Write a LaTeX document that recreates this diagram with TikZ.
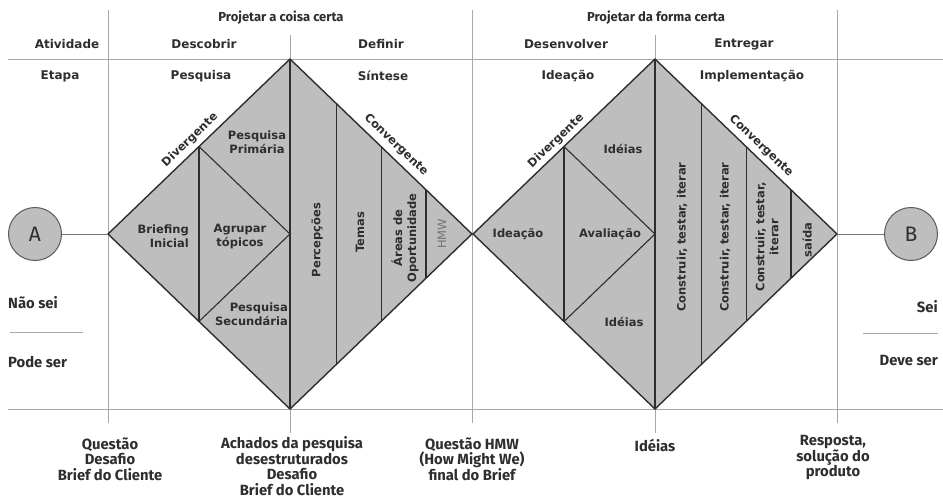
\documentclass[tikz,border=0pt]{standalone}
\usepackage{fontspec}
\setmainfont{DejaVu Sans}
\newfontfamily\firafont{Fira Sans}
\usetikzlibrary{calc}

\definecolor{panelfill}{HTML}{BEBEBE}
\definecolor{inkc}{HTML}{2E2E2E}
\definecolor{gridc}{HTML}{A8A8A8}

\begin{document}
\begin{tikzpicture}[x=1pt,y=-1pt,
  gridline/.style={draw=gridc, line width=0.9pt},
  outline/.style={draw=inkc, line width=1.4pt, line join=miter},
  divider/.style={draw=inkc, line width=1.1pt},
  lbl/.style={font=\fontsize{11.5}{14}\selectfont\bfseries, text=inkc, inner sep=0pt, align=center},
  rowlbl/.style={lbl, font=\fontsize{12}{14}\selectfont\bfseries},
  head/.style={font=\firafont\fontsize{13}{15.5}\selectfont\bfseries, text=inkc, inner sep=0pt, align=center},
  note/.style={head, font=\firafont\fontsize{14.8}{15.5}\selectfont\bfseries},
  endpoint/.style={circle, draw=black!65, line width=1pt, fill=panelfill, minimum size=53pt, inner sep=0pt,
    font=\firafont\fontsize{21}{21}\selectfont, text=inkc},
  link/.style={draw=black!55, line width=1pt}
]
\useasboundingbox (0,0) rectangle (943,498);

% grid of the table
\draw[gridline] (8,59) -- (943,59);
\draw[gridline] (8,409) -- (943,409);
\foreach \gx in {108,472,837} \draw[gridline] (\gx,10) -- (\gx,423);
\foreach \gx in {290,655} \draw[gridline] (\gx,35) -- (\gx,433);
\draw[gridline] (10,332) -- (83,332);
\draw[gridline] (863,333) -- (938,333);

% corner points of the two diamonds
\foreach \n/\cx in {1/290,2/655} {
  \coordinate (d\n t) at (\cx,59);
  \coordinate (d\n b) at (\cx,409);
  \coordinate (d\n l) at (\cx-182,234);
  \coordinate (d\n r) at (\cx+182,234);
  \coordinate (d\n c) at (\cx,234);
  \coordinate (d\n ul) at ($(d\n l)!0.5!(d\n t)$);
  \coordinate (d\n ll) at ($(d\n l)!0.5!(d\n b)$);
}

% diamonds: fill, inner dividers, outline
\foreach \n in {1,2} {
  \fill[panelfill] (d\n t) -- (d\n r) -- (d\n b) -- (d\n l) -- cycle;
  \draw[divider] (d\n t) -- (d\n b);
  \draw[divider] (d\n ul) -- (d\n ll);
  \draw[divider] (d\n ul) -- (d\n c) -- (d\n ll);
  \foreach \p in {0.253,0.505,0.747}
    \draw[divider] ($(d\n t)!\p!(d\n r)$) -- ($(d\n b)!\p!(d\n r)$);
  \draw[outline] (d\n t) -- (d\n r) -- (d\n b) -- (d\n l) -- cycle;
}

% start and end points
\node[endpoint] (A) at (35,234) {A};
\node[endpoint] (B) at (911,234) {B};
\draw[link] (A) -- (d1l);
\draw[link] (d2r) -- (B);

% header rows
\node[head] (h1) at (281,18) {Projetar a coisa certa};
\node[head] (h2) at (656,18) {Projetar da forma certa};
\node[rowlbl] (atv) at (67,44) {Atividade};
\node[rowlbl] (a1) at (204,44) {Descobrir};
\node[rowlbl] (a2) at (381,44) {Definir};
\node[rowlbl] (a3) at (566,44) {Desenvolver};
\node[rowlbl] (a4) at (744,44) {Entregar};
\node[rowlbl] (etp) at (60,76) {Etapa};
\node[rowlbl] (e1) at (201,76) {Pesquisa};
\node[rowlbl] (e2) at (383,76) {Síntese};
\node[rowlbl] (e3) at (568,76) {Ideação};
\node[rowlbl] (e4) at (752,76) {Implementação};

% state labels at both ends
\node[note, anchor=west] (nsei) at (8,303) {Não sei};
\node[note, anchor=west] (pser) at (8,362) {Pode ser};
\node[note, anchor=east] (sei) at (938,307) {Sei};
\node[note, anchor=east] (dser) at (938,360) {Deve ser};

% deliverables under the table
\node[note] (o1) at (110,459) {Questão\\Desafio\\Brief do Cliente};
\node[note] (o2) at (292,466) {Achados da pesquisa\\desestruturados\\Desafio\\Brief do Cliente};
\node[note] (o3) at (472,459) {Questão HMW\\(How Might We)\\final do Brief};
\node[note] (o4) at (655,445) {Idéias};
\node[note] (o5) at (833,458) {Resposta,\\solução do\\produto};

% first diamond
\node[lbl, rotate=43.7] (dv1) at (190,140) {Divergente};
\node[lbl, rotate=-43.7] (cv1) at (396,145) {Convergente};
\node[lbl, align=right, anchor=east] (bri) at (189,236.5) {Briefing\\Inicial};
\node[lbl] (agr) at (240,237) {Agrupar\\tópicos};
\node[lbl] (ppr) at (257,142) {Pesquisa\\Primária};
\node[lbl, align=right, anchor=east] (psc) at (288,314) {Pesquisa\\Secundária};
\node[lbl, rotate=90] (per) at (317,240) {Percepções};
\node[lbl, rotate=90] (tem) at (360,232) {Temas};
\node[lbl, rotate=90] (are) at (405,238) {Áreas de\\Oportunidade};
\node[lbl, rotate=90, font=\fontsize{11.5}{14}\selectfont, text=black!55] (hmw) at (442,234) {HMW};

% second diamond
\node[lbl, rotate=43.7] (dv2) at (556,141) {Divergente};
\node[lbl, rotate=-43.7] (cv2) at (761,146) {Convergente};
\node[lbl] (ide) at (518,234) {Ideação};
\node[lbl] (ava) at (610,234) {Avaliação};
\node[lbl] (id1) at (623,149) {Idéias};
\node[lbl] (id2) at (624,322) {Idéias};
\node[lbl, rotate=90] (c1) at (682,237) {Construir, testar, iterar};
\node[lbl, rotate=90] (c2) at (725,237) {Construir, testar, iterar};
\node[lbl, rotate=90] (c3) at (767,237) {Construir, testar,\\iterar};
\node[lbl, rotate=90] (sai) at (807,240) {saída};
\end{tikzpicture}
\end{document}
